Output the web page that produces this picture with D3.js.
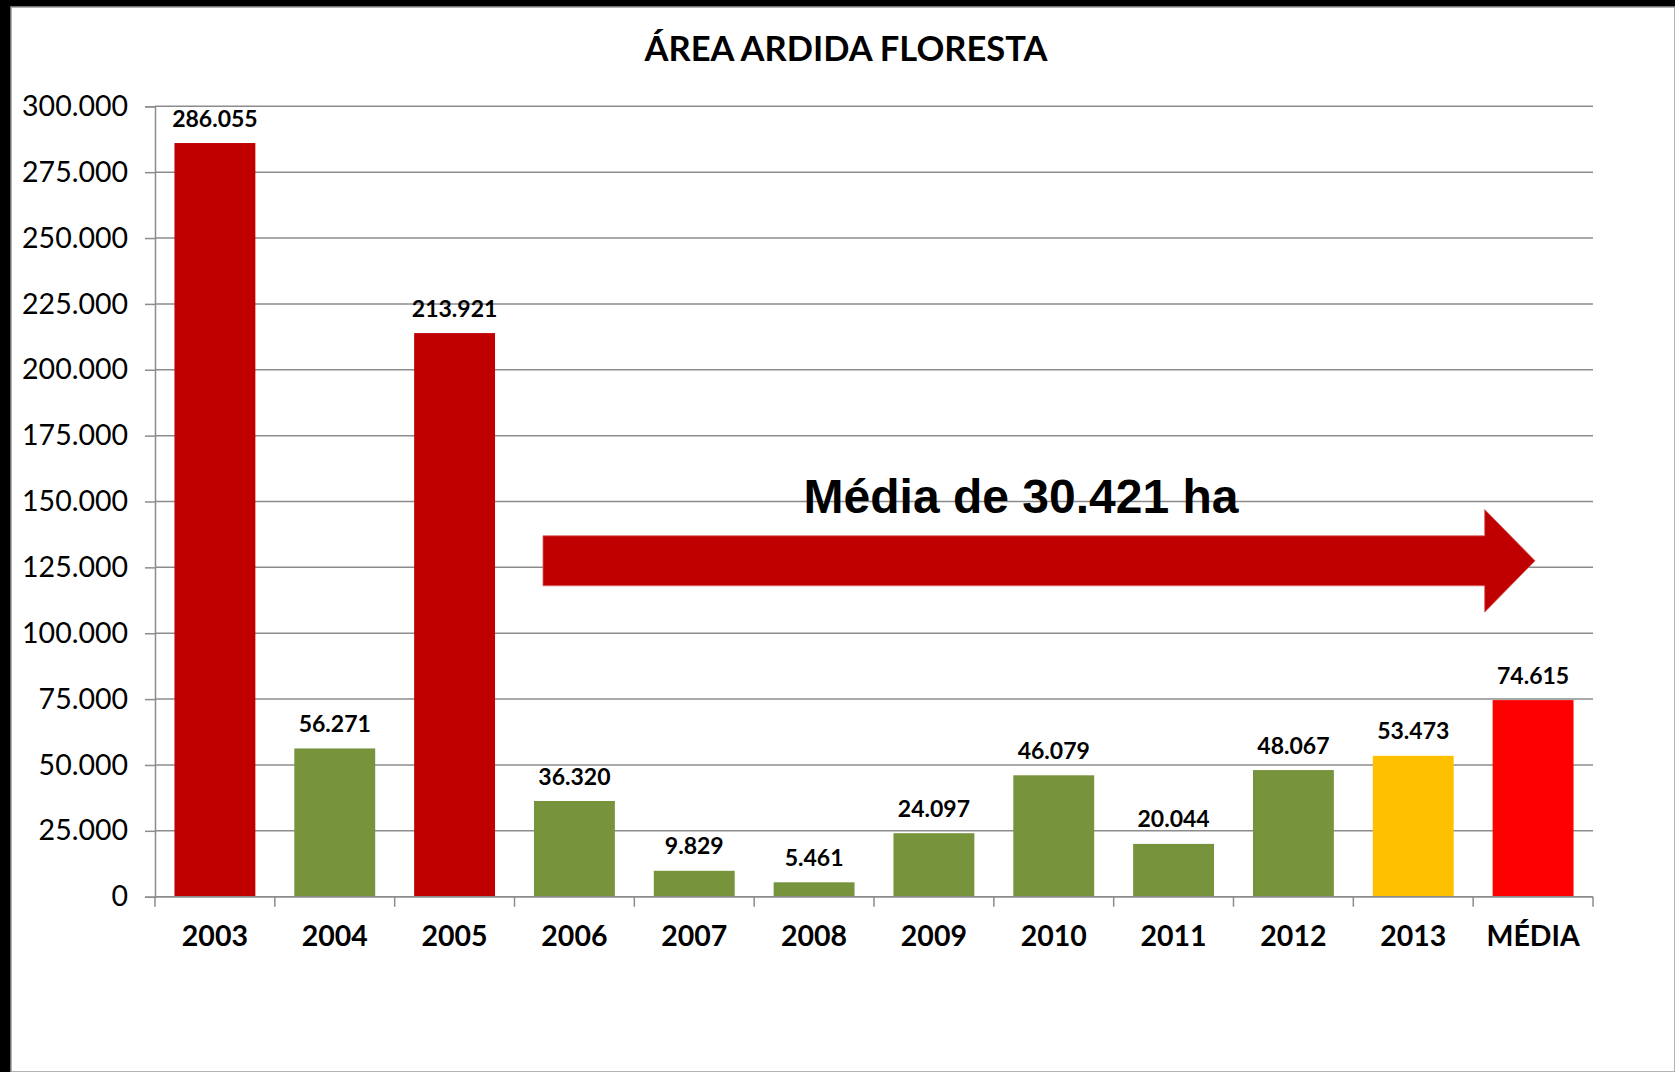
<!DOCTYPE html>
<html>
<head>
<meta charset="utf-8">
<script src="https://cdn.jsdelivr.net/npm/d3@7"></script>
<style>
  html, body { margin: 0; padding: 0; background: #000; }
  svg { display: block; }
</style>
</head>
<body>
<div id="chart"></div>
<script>
// --- dados ---
const categories = ["2003", "2004", "2005", "2006", "2007", "2008", "2009", "2010", "2011", "2012", "2013", "MÉDIA"];
const values = [286055, 56271, 213921, 36320, 9829, 5461, 24097, 46079, 20044, 48067, 53473, 74615];
const barColors = ["#C00000", "#77933C", "#C00000", "#77933C", "#77933C", "#77933C", "#77933C", "#77933C", "#77933C", "#77933C", "#FFC000", "#FF0000"];
const yTicks = [0, 25000, 50000, 75000, 100000, 125000, 150000, 175000, 200000, 225000, 250000, 275000, 300000];
const title = "ÁREA ARDIDA FLORESTA";
const note = "Média de 30.421 ha";

const width = 1675, height = 1072;
const plot = { left: 155, right: 1593, top: 106.3, bottom: 896.7 };

const pt = d3.formatLocale({ decimal: ",", thousands: ".", grouping: [3], currency: ["", ""] });
const fmt = pt.format(",d");

const svg = d3.select("#chart").append("svg")
    .attr("width", width)
    .attr("height", height);

// fundo com moldura preta
svg.append("rect").attr("width", width).attr("height", height).attr("fill", "#000");
svg.append("rect")
    .attr("x", 11).attr("y", 7)
    .attr("width", width - 11).attr("height", height - 7)
    .attr("fill", "#fff")
    .attr("stroke", "#9a9a9a").attr("stroke-width", 1.5);

const x = d3.scaleBand()
    .domain(categories)
    .range([plot.left, plot.right])
    .paddingInner(0.325)
    .paddingOuter(0.1625);

const y = d3.scaleLinear()
    .domain([0, 300000])
    .range([plot.bottom, plot.top]);

const gridColor = "#8c8c8c";

// grelha horizontal
svg.append("g")
    .selectAll("line")
    .data(yTicks)
    .join("line")
    .attr("x1", plot.left).attr("x2", plot.right)
    .attr("y1", d => y(d)).attr("y2", d => y(d))
    .attr("stroke", gridColor).attr("stroke-width", 1.5);

// eixo Y
const yAxis = svg.append("g")
    .attr("transform", `translate(${plot.left},0)`)
    .call(d3.axisLeft(y).tickValues(yTicks).tickFormat(fmt).tickSize(10).tickPadding(17));
yAxis.select(".domain").attr("stroke", gridColor).attr("stroke-width", 1.5);
yAxis.selectAll(".tick line").attr("stroke", gridColor).attr("stroke-width", 1.5);
yAxis.selectAll("text")
    .style("font-family", "Lato, 'Open Sans', sans-serif")
    .style("font-size", "28.5px")
    .attr("fill", "#000");

// barras
svg.append("g")
    .selectAll("rect")
    .data(categories)
    .join("rect")
    .attr("x", d => x(d))
    .attr("y", (d, i) => y(values[i]))
    .attr("width", x.bandwidth())
    .attr("height", (d, i) => y(0) - y(values[i]))
    .attr("fill", (d, i) => barColors[i]);

// eixo X (linha + marcas nos limites das categorias)
svg.append("line")
    .attr("x1", plot.left).attr("x2", plot.right)
    .attr("y1", y(0)).attr("y2", y(0))
    .attr("stroke", gridColor).attr("stroke-width", 1.5);

const bounds = d3.range(categories.length + 1).map(i => plot.left + i * x.step());
svg.append("g")
    .selectAll("line")
    .data(bounds)
    .join("line")
    .attr("x1", d => d).attr("x2", d => d)
    .attr("y1", y(0)).attr("y2", y(0) + 10)
    .attr("stroke", gridColor).attr("stroke-width", 1.5);

svg.append("g")
    .selectAll("text")
    .data(categories)
    .join("text")
    .attr("x", d => x(d) + x.bandwidth() / 2)
    .attr("y", y(0) + 49)
    .attr("text-anchor", "middle")
    .style("font-family", "Lato, 'Open Sans', sans-serif")
    .style("font-weight", "bold")
    .style("font-size", "28.5px")
    .text(d => d);

// rótulos de dados
svg.append("g")
    .selectAll("text")
    .data(categories)
    .join("text")
    .attr("x", d => x(d) + x.bandwidth() / 2)
    .attr("y", (d, i) => y(values[i]) - 16.5)
    .attr("text-anchor", "middle")
    .style("font-family", "Lato, 'Open Sans', sans-serif")
    .style("font-weight", "bold")
    .style("font-size", "23px")
    .text((d, i) => fmt(values[i]));

// título
svg.append("text")
    .attr("x", 846).attr("y", 61)
    .attr("text-anchor", "middle")
    .style("font-family", "Lato, 'Open Sans', sans-serif")
    .style("font-weight", "bold")
    .style("font-size", "34.5px")
    .text(title);

// seta da média
const ax0 = x("2006") + 9;
const axHead = x("MÉDIA") - 8;
const axTip = x("MÉDIA") + x.bandwidth() / 2 + 2;
const arrow = [
    [ax0, y(137000)], [axHead, y(137000)], [axHead, y(147000)],
    [axTip, y(127500)],
    [axHead, y(108000)], [axHead, y(118000)], [ax0, y(118000)]
];
svg.append("path")
    .attr("d", d3.line()(arrow) + "Z")
    .attr("fill", "#C00000")
    .attr("stroke", "#d86a6a").attr("stroke-width", 0.8);

svg.append("text")
    .attr("x", 1021).attr("y", y(145600))
    .attr("text-anchor", "middle")
    .style("font-family", "'Liberation Sans', Arial, sans-serif")
    .style("font-weight", "bold")
    .style("font-size", "48px")
    .text(note);
</script>
</body>
</html>
